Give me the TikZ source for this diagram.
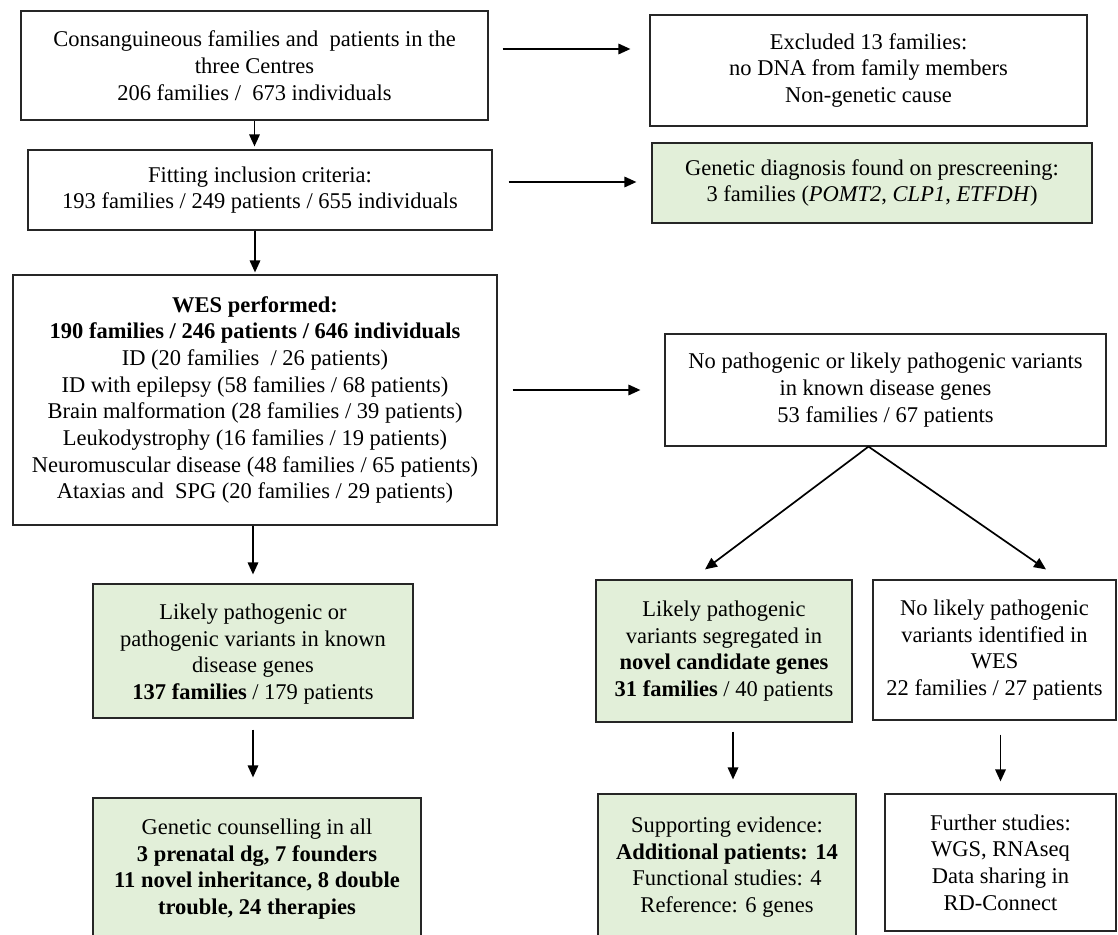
\documentclass[tikz,border=0pt]{standalone}
\usepackage{fontspec}
\setmainfont{Liberation Serif}
\usetikzlibrary{arrows.meta,calc}
\definecolor{boxgreen}{HTML}{E2EFD9}
\begin{document}
\begin{tikzpicture}[x=1pt,y=-1pt,
  txt/.style={align=center, inner sep=0pt, font=\fontsize{22.5}{26.7}\selectfont},
  box/.style={txt, draw=black!85, line width=1.2pt, rectangle},
  gbox/.style={box, fill=boxgreen},
  arr/.style={-{Triangle[length=12pt,width=10.5pt]}, line width=1.7pt}]
\useasboundingbox (0,0) rectangle (1118,934);
\fill[white] (0,0) rectangle (1118,934);

\node[box, minimum width=467pt, minimum height=109pt] (A) at (254.5,65.5)
  {Consanguineous families and\ \ patients in the\\three Centres\\206 families /\ \ 673 individuals};
\node[box, minimum width=464pt, minimum height=80pt] (B) at (260,190)
  {Fitting inclusion criteria:\\193 families / 249 patients / 655 individuals};
\node[box, minimum width=484pt, minimum height=250pt] (C) at (255,400)
  {\textbf{WES performed:}\\\textbf{190 families / 246 patients / 646 individuals}\\
   ID (20 families\ \ / 26 patients)\\ID with epilepsy (58 families / 68 patients)\\
   Brain malformation (28 families / 39 patients)\\Leukodystrophy (16 families / 19 patients)\\
   Neuromuscular disease (48 families / 65 patients)\\Ataxias and\ \ SPG (20 families / 29 patients)};
\node[box, minimum width=437pt, minimum height=111pt] (D) at (868.5,70.5)
  {Excluded 13 families:\\no DNA from family members\\Non-genetic cause};
\node[gbox, minimum width=440pt, minimum height=80pt] (E) at (872,183)
  {Genetic diagnosis found on prescreening:\\3 families (\textit{POMT2}, \textit{CLP1}, \textit{ETFDH})};
\node[box, minimum width=441pt, minimum height=112pt] (F) at (885.5,390)
  {No pathogenic or likely pathogenic variants\\in known disease genes\\53 families / 67 patients};
\node[gbox, minimum width=320pt, minimum height=134pt] (G) at (253,651) {};
\node[txt] (Gt) at (253,654)
  {Likely pathogenic or\\pathogenic variants in known\\disease genes\\\textbf{137 families} / 179 patients};
\node[gbox, minimum width=328pt, minimum height=142pt] (H) at (257,869)
  {Genetic counselling in all\\\textbf{3 prenatal dg, 7 founders}\\\textbf{11 novel inheritance, 8 double}\\\textbf{trouble, 24 therapies}};
\node[gbox, minimum width=256pt, minimum height=142pt] (N) at (724,651)
  {Likely pathogenic\\variants segregated in\\\textbf{novel candidate genes}\\\textbf{31 families} / 40 patients};
\node[box, minimum width=243pt, minimum height=140pt] (I) at (994.5,650)
  {No likely pathogenic\\variants identified in\\WES\\22 families / 27 patients};
\node[gbox, minimum width=258pt, minimum height=146pt] (J) at (727,867)
  {Supporting evidence:\\\textbf{Additional patients: 14}\\Functional studies: 4\\Reference: 6 genes};
\node[box, minimum width=231pt, minimum height=137pt] (K) at (1000.5,862.5)
  {Further studies:\\WGS, RNAseq\\Data sharing in\\RD-Connect};

\coordinate (apex) at ($(F.south)+(-17,0)$);

\draw[arr, shorten >=3pt] (A.south) -- (A.south |- B.north);
\draw[arr, shorten >=2pt] (C.north |- B.south) -- (C.north);
\draw[arr, shorten <=14pt, shorten >=19pt] (A.east |- 0,49) -- (D.west |- 0,49);
\draw[arr, shorten <=16pt, shorten >=15pt] (B.east |- 0,182) -- (E.west |- 0,182);
\draw[arr, shorten <=15pt, shorten >=24pt] (C.east |- F.west) -- (F.west);
\draw[arr, shorten >=9pt] (G.north |- C.south) -- (G.north);
\draw[arr, shorten <=11pt, shorten >=20pt] (G.south) -- (G.south |- H.north);
\draw[arr] (apex) -- ($(N.north)+(-19,-10)$);
\draw[arr] (apex) -- ($(I.north)+(51.5,-10)$);
\draw[arr, shorten <=9pt, shorten >=14pt] ([xshift=6pt]J.north |- N.south) -- ([xshift=6pt]J.north);
\draw[arr, shorten <=14pt, shorten >=12pt] (K.north |- I.south) -- (K.north);
\end{tikzpicture}
\end{document}
